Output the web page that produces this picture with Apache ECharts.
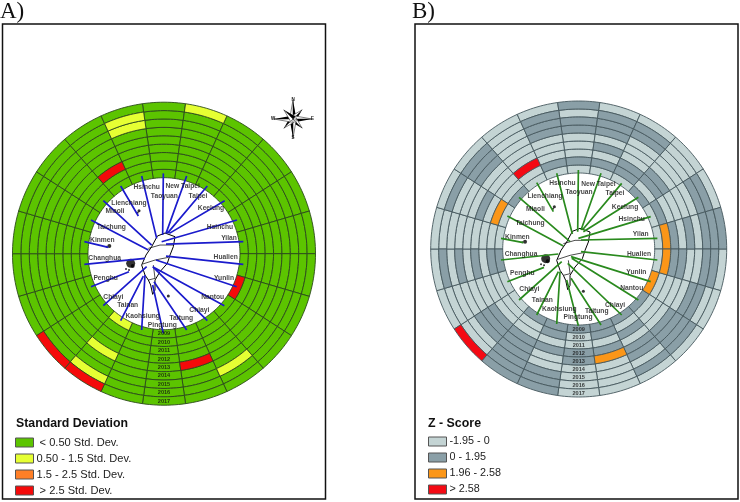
<!DOCTYPE html>
<html><head><meta charset="utf-8">
<style>html,body{margin:0;padding:0;background:#fff}#c{width:740px;height:502px}</style>
<script src="https://cdn.jsdelivr.net/npm/echarts@6/dist/echarts.min.js"></script>
</head><body><div id="c"></div>
<script>
const years = [2009,2010,2011,2012,2013,2014,2015,2016,2017];
const cities = ['Taoyuan','New Taipei','Taipei','Keelung','Hsinchu','Yilan','Hualien','Yunlin','Nantou','Chiayi','Taitung','Pingtung','Kaohsiung','Tainan','Chiayi','Penghu','Changhua','Kinmen','Taichung','Miaoli','Lienchiang','Hsinchu'];
// class per city, one letter per year 2009..2017
const stdDevClass = ['GGGGGGGGG','GGGGGGGGY','GGGGGGGGG','GGGGGGGGG','GGGGGGGGG','GGGGGGGGG','GGGGGGGGG','RGGGGGGGG','GGGGGGGGG','GGGGGGYGG','GGGGRGGGG','GGGGGGGGG','GGGGGGGGG','YGGGYGGYR','GGGGGGGGR','GGGGGGGGG','GGGGGGGGG','GGGGGGGGG','GGGGGGGGG','GGGGGGGGG','GGRGGGGGG','GGGGGGYYG'];
const zScoreClass = ['LDLLLDDLD','LDLDLDDDL','LDDLLLDDL','DLDDLLLLL','LDLLLLDDL','LODLDLDDD','LODDLLDDL','OLLLLDDLL','DLLLDDDDL','DLDLDDLDL','DDLDOLLLL','DLLDDLLLL','DDLDLLDDD','DLLDDDDDD','LLLDDDLLR','LLLLLLLLL','DDLDLDLDL','LLLLLLLLL','LOLDLLLDL','DLLLLDDDL','LLRLLLLLL','LDLLLDDDL'];
// legend entries
const stdDevLegend = [['G',' < 0.50 Std. Dev.','#5cc400'],['Y','0.50 - 1.5 Std. Dev.','#e6ff33'],['O','1.5 - 2.5 Std. Dev.','#ff7f27'],['R',' > 2.5 Std. Dev.','#f40a0a']];
const zScoreLegend = [['L','-1.95 - 0','#c4d4d4'],['D','0 - 1.95','#8a9fa7'],['O','1.96 - 2.58','#fb9618'],['R','> 2.58','#f40a14']];
// map-frame coordinates: labels and spoke ends, same order as cities
const labelA = [[253,78],[308,47],[354,79],[393,114],[420,170],[447,205],[437,262],[432,325],[398,381],[358,421],[304,443],[247,464],[188,437],[143,406],[100,380],[77,323],[74,263],[67,211],[94,170],[105,124],[147,98],[200,50]];
const labelB = [[252,95],[310,73],[360,100],[390,140],[410,177],[437,222],[432,281],[424,337],[410,385],[360,435],[305,452],[249,472],[193,448],[142,420],[103,388],[82,339],[78,281],[67,230],[105,190],[121,148],[150,108],[202,70]];
const spokeOuterA = [[250,10],[320,18],[382,48],[434,92],[471,150],[490,215],[490,283],[470,350],[433,407],[382,452],[320,480],[250,490],[185,480],[122,452],[70,407],[33,350],[13,283],[13,215],[33,150],[70,92],[122,48],[185,18]];
const spokeInnerA = [[248,195],[258,190],[262,190],[268,190],[245,215],[258,222],[258,258],[228,270],[218,290],[218,290],[222,335],[218,345],[195,315],[190,318],[200,290],[147,305],[195,265],[85,232],[205,240],[215,225],[175,138],[230,205]];
const spokeOuterB = [[250,30],[318,40],[380,70],[430,112],[467,170],[487,235],[487,300],[467,365],[430,420],[380,465],[318,495],[250,497],[185,492],[125,465],[72,420],[37,365],[18,300],[18,235],[37,168],[72,112],[125,68],[185,40]];
const spokeInnerB = [[248,215],[258,210],[262,210],[265,215],[250,235],[258,240],[258,275],[228,290],[230,295],[218,310],[228,355],[215,360],[195,335],[190,335],[200,305],[147,322],[190,282],[85,248],[205,258],[225,245],[175,155],[232,222]];
const taiwanA = [[232,198],[255,189],[285,200],[280,230],[270,255],[262,280],[240,305],[225,330],[225,360],[218,373],[212,345],[205,330],[195,315],[185,285],[198,255],[215,230],[232,198]];
const countyA = [[[188,282],[225,270],[265,262]],[[205,330],[225,325],[220,285]],[[205,235],[240,225],[280,225]]];
const islandsA = [[152,280,9],[158,288,4],[138,297,2],[147,300,2],[88,228,4],[80,230,2],[177,122,3],[173,128,2],[265,378,3]];
const taiwanB = [[232,214],[255,205],[285,216],[280,246],[270,271],[262,296],[240,321],[225,346],[225,376],[218,389],[212,361],[205,346],[195,331],[185,301],[198,271],[215,246],[232,214]];
const countyB = [[[188,298],[225,286],[265,278]],[[205,346],[225,341],[220,301]],[[205,251],[240,241],[280,241]]];
const islandsB = [[152,296,9],[158,304,4],[138,313,2],[147,316,2],[90,245,4],[82,247,2],[178,140,3],[174,146,2],[265,394,3]];

const panels = [
 {cx:164,cy:253.7,R:151.5,inner:76,ox:252,oy:251,cls:stdDevClass,leg:stdDevLegend,border:'#2b4a1c',spoke:'#1b1bcc',label:labelA,so:spokeOuterA,si:spokeInnerA,map:taiwanA,county:countyA,isl:islandsA},
 {cx:578.7,cy:249,R:148,inner:76,ox:251,oy:267,cls:zScoreClass,leg:zScoreLegend,border:'#46585e',spoke:'#2a8a1e',label:labelB,so:spokeOuterB,si:spokeInnerB,map:taiwanB,county:countyB,isl:islandsB}
];
const half = 180/cities.length;
const option = {animation:false,backgroundColor:'#fff',textStyle:{fontFamily:'Liberation Sans'},
 polar:[],angleAxis:[],radiusAxis:[],grid:[],xAxis:[],yAxis:[],series:[],legend:[],
 title:[
  {text:'A)',left:0,top:0,padding:0,textStyle:{fontFamily:'Liberation Serif',fontSize:23,fontWeight:'normal',color:'#111'}},
  {text:'B)',left:412,top:0,padding:0,textStyle:{fontFamily:'Liberation Serif',fontSize:23,fontWeight:'normal',color:'#111'}},
  {text:'Standard Deviation',left:16,top:418,padding:0,textStyle:{fontSize:12.3,fontWeight:'bold',color:'#111'}},
  {text:'Z - Score',left:428,top:418,padding:0,textStyle:{fontSize:12.4,fontWeight:'bold',color:'#111'}}
 ],
 graphic:{elements:[]}
};
panels.forEach((p,i)=>{
 const span = 9*p.R/(p.R-p.inner);
 option.polar.push({center:[p.cx,p.cy],radius:[0,p.R]});
 option.angleAxis.push({polarIndex:i,type:'value',min:0,max:360,startAngle:90,clockwise:true,show:false});
 option.radiusAxis.push({polarIndex:i,type:'value',min:2018-span,max:2018,show:false});
 option.grid.push({left:p.cx-p.R,top:p.cy-p.R,width:2*p.R,height:2*p.R,show:false});
 option.xAxis.push({gridIndex:i,type:'value',min:p.ox-3*p.R,max:p.ox+3*p.R,show:false});
 option.yAxis.push({gridIndex:i,type:'value',min:p.oy-3*p.R,max:p.oy+3*p.R,inverse:true,show:false});
 p.leg.forEach(([code,name,color])=>{
  const data=[];
  p.cls.forEach((s,c)=>{[...s].forEach((ch,y)=>{if(ch===code)data.push([years[y],c*2*half]);});});
  option.series.push({type:'custom',name,coordinateSystem:'polar',polarIndex:i,data,encode:{radius:0,angle:1},silent:true,
   itemStyle:{color},
   renderItem(params,api){
    const yr=api.value(0),a=api.value(1),pts=[],steps=12;
    for(let t=0;t<=steps;t++)pts.push(api.coord([yr,a-half+2*half*t/steps]).slice(0,2));
    for(let t=steps;t>=0;t--)pts.push(api.coord([yr+1,a-half+2*half*t/steps]).slice(0,2));
    return {type:'polygon',shape:{points:pts},style:{fill:color,stroke:p.border,lineWidth:0.9}};
   }});
 });
 option.legend.push({data:p.leg.map(l=>l[1]),orient:'vertical',left:i?428:15,top:i?435:436,height:66,itemWidth:18,itemHeight:9,itemGap:3,
  padding:0,selectedMode:false,icon:'rect',itemStyle:{borderColor:'#555',borderWidth:1},
  textStyle:{fontSize:i?10.8:11.1,lineHeight:13,height:13,color:'#222',padding:[0,0,0,-2]}});
 // years along the bottom spoke
 option.series.push({type:'scatter',coordinateSystem:'polar',polarIndex:i,silent:true,symbolSize:1,itemStyle:{color:'transparent'},
  data:years.map(y=>[y+0.5,180,y]),encode:{radius:0,angle:1},
  label:{show:true,position:'inside',formatter:d=>String(d.value[2]),fontSize:5.6,fontWeight:'bold',color:'#111'},z:6});
 // Taiwan map
 const lineBase={type:'line',xAxisIndex:i,yAxisIndex:i,symbol:'none',silent:true,z:3,connectNulls:false};
 option.series.push({...lineBase,data:p.map,lineStyle:{color:'#000',width:1}});
 p.county.forEach(c=>option.series.push({...lineBase,data:c,lineStyle:{color:'#000',width:0.7}}));
 option.series.push({type:'scatter',xAxisIndex:i,yAxisIndex:i,silent:true,z:3,data:p.isl,symbolSize:d=>d[2],itemStyle:{color:'#000'}});
 // spokes
 const sp=[];p.so.forEach((o,k)=>{sp.push(o,p.si[k],[null,null]);});
 option.series.push({...lineBase,z:4,data:sp,lineStyle:{color:p.spoke,width:1.7}});
 // city labels
 option.series.push({type:'scatter',xAxisIndex:i,yAxisIndex:i,silent:true,symbolSize:1,itemStyle:{color:'transparent'},z:5,
  data:p.label.map((l,k)=>[l[0],l[1],cities[k]]),
  label:{show:true,position:'inside',formatter:d=>d.value[2],fontSize:6.7,fontWeight:'bold',color:'#111'}});
});
// frames
[[2.5,323],[415,323]].forEach(([x,w])=>option.graphic.elements.push({type:'rect',shape:{x,y:24,width:w,height:475},style:{fill:'none',stroke:'#111',lineWidth:1.5},silent:true}));
// compass rose
const C=[293,119];
for(let k=0;k<8;k++){
 const a=k*Math.PI/4,len=k%2?13:19,w=3.4;
 const tip=[C[0]+len*Math.sin(a),C[1]-len*Math.cos(a)];
 const s1=[C[0]+w*Math.sin(a+Math.PI/2),C[1]-w*Math.cos(a+Math.PI/2)];
 const s2=[C[0]-w*Math.sin(a+Math.PI/2),C[1]+w*Math.cos(a+Math.PI/2)];
 option.graphic.elements.push({type:'polygon',silent:true,z:10,shape:{points:[C,tip,s1]},style:{fill:'#000'}});
 option.graphic.elements.push({type:'polygon',silent:true,z:10,shape:{points:[C,tip,s2]},style:{fill:'#fff',stroke:'#000',lineWidth:0.5}});
}
[['N',293,100],['S',293,137.5],['W',273,118.5],['E',312.5,118.5]].forEach(([t,x,y])=>option.graphic.elements.push({type:'text',silent:true,z:10,x,y,style:{text:t,font:'bold 4.5px Liberation Sans',fill:'#111',textAlign:'center',textVerticalAlign:'middle'}}));
echarts.init(document.getElementById('c'),null,{renderer:'canvas'}).setOption(option);
</script></body></html>
